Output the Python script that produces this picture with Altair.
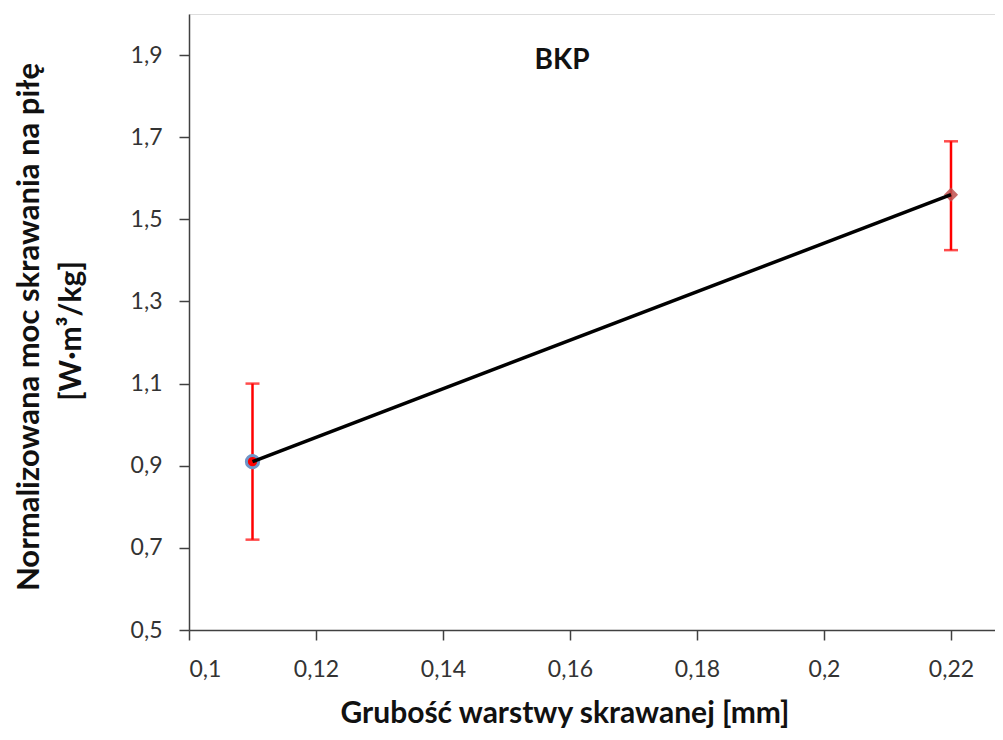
import altair as alt
import pandas as pd

x_vals = [0.11, 0.22]
y_vals = [0.91, 1.56]
y_low = [0.72, 1.425]
y_high = [1.10, 1.69]
shapes = ["circle", "diamond"]
x_ticks = [0.1, 0.12, 0.14, 0.16, 0.18, 0.2, 0.22]
y_ticks = [0.5, 0.7, 0.9, 1.1, 1.3, 1.5, 1.7, 1.9]
chart_title = "BKP"
x_title = "Grubość warstwy skrawanej [mm]"
y_title = ["Normalizowana moc skrawania na piłę", "[W·m³/kg]"]

df = pd.DataFrame({"x": x_vals, "y": y_vals, "lo": y_low, "hi": y_high, "shape": shapes})

FONT = "Lato"
W, H = 806, 616

xs = alt.Scale(domain=[0.1, 0.22693], nice=False)
ys = alt.Scale(domain=[0.5, 2.0], nice=False)

lab = "replace(format(datum.value, '~g'), '.', ',')"

xax = alt.Axis(values=x_ticks, labelExpr=lab, title=None, grid=False, tickSize=10,
               labelPadding=18, labelFontSize=23, labelFont=FONT, labelColor="#333",
               domainColor="#404040", tickColor="#404040", domainWidth=1.5, tickWidth=1.5)
yax = alt.Axis(values=y_ticks, labelExpr=lab, title=None, grid=False, tickSize=10,
               labelPadding=17, labelFontSize=23, labelFont=FONT, labelColor="#333",
               domainColor="#404040", tickColor="#404040", domainWidth=1.5, tickWidth=1.5)

base = alt.Chart(df)

err = base.mark_rule(color="#ff0000", strokeWidth=2.5).encode(
    x=alt.X("x:Q", scale=xs, axis=xax), y=alt.Y("lo:Q", scale=ys, axis=yax), y2="hi:Q")
cap_lo = base.mark_tick(color="#ff0000", orient="horizontal", size=14, thickness=2.5).encode(
    x=alt.X("x:Q", scale=xs), y=alt.Y("lo:Q", scale=ys))
cap_hi = base.mark_tick(color="#ff0000", orient="horizontal", size=14, thickness=2.5).encode(
    x=alt.X("x:Q", scale=xs), y=alt.Y("hi:Q", scale=ys))

pt1 = alt.Chart(df.iloc[[0]]).mark_point(shape="circle", filled=True, size=150, color="#ff0000",
                                          stroke="#6f95c8", strokeWidth=3, opacity=1).encode(
    x=alt.X("x:Q", scale=xs), y=alt.Y("y:Q", scale=ys))
pt2 = alt.Chart(df.iloc[[1]]).mark_point(shape="diamond", filled=True, size=200, color="#c0504d",
                                          opacity=0.85).encode(
    x=alt.X("x:Q", scale=xs), y=alt.Y("y:Q", scale=ys))

line = base.mark_line(color="#000000", strokeWidth=3.5).encode(
    x=alt.X("x:Q", scale=xs), y=alt.Y("y:Q", scale=ys))

ttl = alt.Chart(pd.DataFrame({"t": [chart_title]})).mark_text(
    font=FONT, fontSize=28, fontWeight="bold", color="#111", align="center", baseline="middle"
).encode(text="t:N", x=alt.value(373), y=alt.value(47))

xt = alt.Chart(pd.DataFrame({"t": [x_title]})).mark_text(
    font=FONT, fontSize=30, fontWeight="bold", color="#111", align="center", baseline="alphabetic"
).encode(text="t:N", x=alt.value(376), y=alt.value(709))

yt1 = alt.Chart(pd.DataFrame({"t": [y_title[0]]})).mark_text(
    font=FONT, fontSize=31, fontWeight="bold", color="#111", align="center", baseline="middle",
    angle=270
).encode(text="t:N", x=alt.value(-159), y=alt.value(313))
yt2 = alt.Chart(pd.DataFrame({"t": [y_title[1]]})).mark_text(
    font=FONT, fontSize=30, fontWeight="bold", color="#111", align="center", baseline="middle",
    angle=270
).encode(text="t:N", x=alt.value(-117), y=alt.value(317))

chart = alt.layer(err, cap_lo, cap_hi, pt1, pt2, line, ttl, xt, yt1, yt2).properties(
    width=W, height=H,
    autosize=alt.AutoSizeParams(type="none"),
    padding={"left": 181, "top": 6, "right": 0, "bottom": 102},
).configure_view(stroke=None).configure(background="white")

chart.save("out.html", embed_options={"renderer": "svg", "actions": False})
